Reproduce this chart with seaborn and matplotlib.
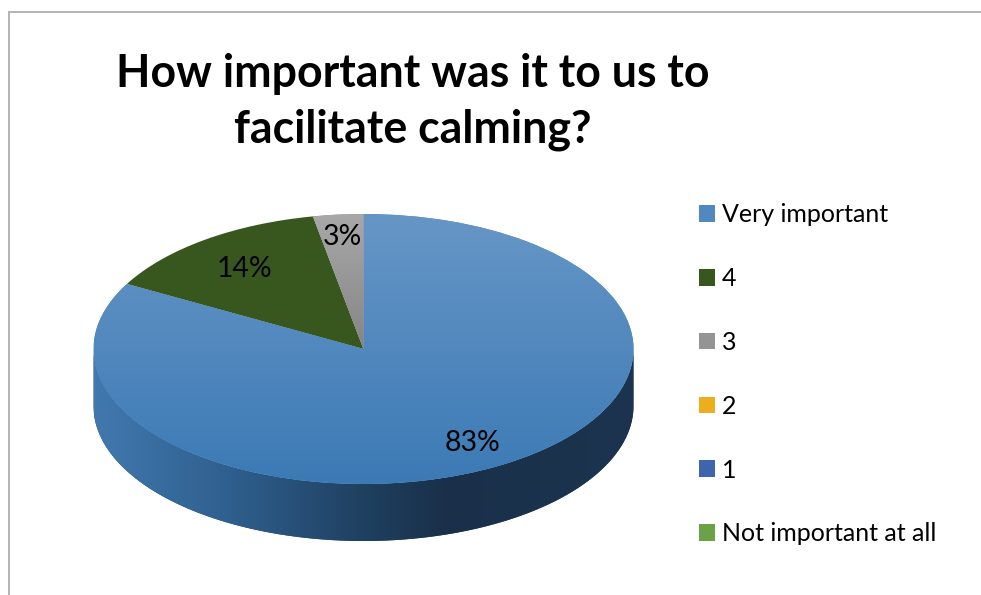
import numpy as np
import seaborn as sns
import matplotlib.pyplot as plt
from matplotlib.colors import LinearSegmentedColormap
from matplotlib.patches import Patch, PathPatch
from matplotlib.path import Path

# valeurs
categories = ['Very important', '4', '3', '2', '1', 'Not important at all']
values = [83, 14, 3, 0, 0, 0]
colors = ['#5089c2', '#38571f', '#949494', '#ecae1e', '#3f64ae', '#6ba147']
key_tops = ['#6598c8', '#3f5a28', '#a2a2a2', '#eeb038', '#5a78b8', '#7aab5a']
key_bottoms = ['#3f7cb5', '#38531e', '#868686', '#e6a500', '#2a52a8', '#5a9a30']
label_dist = [0.79, 0.75, 0.85]
title = 'How important was it to us to\nfacilitate calming?'

W, H = 981, 595
sns.set_theme(style='white')
plt.rcParams['font.family'] = ['Lato', 'DejaVu Sans']

fig = plt.figure(figsize=(W / 100, H / 100), dpi=100)

# le cadre : seulement le haut et la gauche sont visibles
frame = fig.add_axes([8.6 / W, 0, 1 - 8.6 / W, 1 - 12 / H])
frame.set_xticks([])
frame.set_yticks([])
sns.despine(ax=frame, right=True, bottom=True, top=False, left=False)
for side in ['top', 'left']:
    frame.spines[side].set_color('#b4b4b4')
    frame.spines[side].set_linewidth(1.4)

# ellipse du dessus : centre (363.5, 349), rayons 270 et 135, épaisseur 57
cx, cy, rx, ry, depth = 363.5, 349, 270, 135, 57
d = depth / ry
margin = 0.03
x_px = rx * (1 + margin)
ax = fig.add_axes([(cx - x_px) / W, (H - (cy + ry * (1 + d + margin))) / H,
                   2 * x_px / W, ry * (2 + d + 2 * margin) / H])
wedges, _ = ax.pie(values, colors=sns.color_palette(colors), startangle=90,
                   counterclock=False, radius=1,
                   wedgeprops={'linewidth': 0})
ax.set_aspect('auto')


def gradient(stops, extent, clip, vertical=True):
    cmap = LinearSegmentedColormap.from_list('g', stops)
    ramp = np.linspace(0, 1, 512)
    ramp = ramp[:, None] if vertical else ramp[None, :]
    im = ax.imshow(ramp, extent=extent, aspect='auto', cmap=cmap, origin='upper',
                   vmin=0, vmax=1, zorder=clip.get_zorder() + 0.1, interpolation='bilinear')
    im.set_clip_path(clip)


# le côté du camembert
theta = np.linspace(np.pi, 2 * np.pi, 300)
xs = np.cos(theta)
ys = np.sin(theta)
side_xy = np.vstack([np.column_stack([xs, ys]),
                     np.column_stack([xs[::-1], ys[::-1] - d]),
                     [[xs[0], ys[0]]]])
side = PathPatch(Path(side_xy), facecolor='#1f4060', edgecolor='none',
                 transform=ax.transData, zorder=0.5)
ax.add_patch(side)
gradient([(0, '#4179af'), (0.25, '#2f5f8e'), (0.5, '#1f4060'), (0.65, '#1a304a'), (1, '#1c344f')],
         (-1, 1, -1 - d, 0), side, vertical=False)

# dégradés des parts
gradient(['#6696c6', '#3c7ab5'], (-1, 1, -1, 1), wedges[0])
gradient(['#a8a8a8', '#858585'], (-1, 1, 0, 1), wedges[2])

ax.set_xlim(-1 - margin, 1 + margin)
ax.set_ylim(-1 - d - margin, 1 + margin)

# étiquettes en pourcentage
total = sum(values)
for wedge, val, dist in zip(wedges, values, label_dist):
    mid = np.deg2rad((wedge.theta1 + wedge.theta2) / 2)
    ax.text(dist * np.cos(mid), dist * np.sin(mid) - 2 / ry, f'{val / total:.0%}',
            ha='center', va='center', fontsize=20.4, color='black', zorder=10)

fig.text(413 / W, 1 - 102 / H, title, ha='center', va='center', fontsize=32.1,
         fontweight='bold', color='black', linespacing=1.38)

handles = [Patch(facecolor=c, edgecolor='none') for c in colors]
leg = fig.legend(handles, categories, loc='upper left', bbox_to_anchor=(676.5 / W, 1 - 181 / H),
                 frameon=False, fontsize=18, labelspacing=1.63, handlelength=0.64,
                 handleheight=0.64, handletextpad=0.28, labelcolor='black')

# petits dégradés dans les carrés de la légende
fig.canvas.draw()
for patch, top, bottom in zip(leg.get_patches(), key_tops, key_bottoms):
    box = patch.get_window_extent()
    key = fig.add_axes([box.x0 / W, box.y0 / H, box.width / W, box.height / H])
    key.imshow(np.linspace(0, 1, 32)[:, None], aspect='auto', vmin=0, vmax=1,
               cmap=LinearSegmentedColormap.from_list('k', [top, bottom]))
    key.axis('off')

fig.savefig('out.png', dpi=100)
